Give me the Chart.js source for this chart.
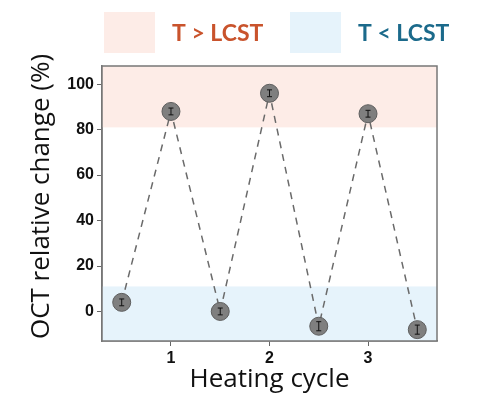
<!DOCTYPE html>
<html><head><meta charset="utf-8">
<script src="https://cdn.jsdelivr.net/npm/chart.js@4/dist/chart.umd.min.js"></script>
<style>html,body{margin:0;padding:0;background:#fff}#wrap{width:477px;height:398px}</style>
</head><body><div id="wrap"><canvas id="c" width="477" height="398"></canvas></div>
<script>
const cycleX = [0.5, 1, 1.5, 2, 2.5, 3, 3.5];
const octChange = [4, 88, 0, 96, -6.5, 87, -8];
const octErr = [1.5, 1.5, 1.5, 1.5, 2, 1.5, 2];
const xTickValues = [1, 2, 3];
const yTickValues = [0, 20, 40, 60, 80, 100];
const hotBand = [81, 108];
const coldBand = [-13, 11];
const legendLabels = ['T > LCST', 'T < LCST'];

const PINK = 'rgb(253,236,231)';
const BLUE = 'rgb(230,243,251)';

const bandsPlugin = {
  id: 'bands',
  beforeDraw(chart) {
    const ys = chart.scales.y;
    if (!ys._titleWrapped) {
      const orig = ys.drawTitle;
      ys.drawTitle = function () {
        const t = this.top;
        this.top -= 14;
        orig.apply(this, arguments);
        this.top = t;
      };
      ys._titleWrapped = true;
    }
  },
  beforeDatasetsDraw(chart) {
    const {ctx, chartArea: a, scales: {y}} = chart;
    ctx.save();
    const draw = (band, col) => {
      const t = Math.max(y.getPixelForValue(band[1]), a.top);
      const b = Math.min(y.getPixelForValue(band[0]), a.bottom);
      ctx.fillStyle = col;
      ctx.fillRect(a.left, t, a.right - a.left, b - t);
    };
    draw(hotBand, PINK);
    draw(coldBand, BLUE);
    ctx.restore();
  },
  afterDatasetsDraw(chart) {
    const {ctx, chartArea: a, scales: {x, y}} = chart;
    ctx.save();
    ctx.strokeStyle = '#111';
    ctx.lineWidth = 1;
    cycleX.forEach((cx, i) => {
      const px = x.getPixelForValue(cx);
      const t = y.getPixelForValue(octChange[i] + octErr[i]);
      const b = y.getPixelForValue(octChange[i] - octErr[i]);
      ctx.beginPath();
      ctx.moveTo(px, t); ctx.lineTo(px, b);
      ctx.moveTo(px - 2.5, t); ctx.lineTo(px + 2.5, t);
      ctx.moveTo(px - 2.5, b); ctx.lineTo(px + 2.5, b);
      ctx.stroke();
    });
    ctx.strokeStyle = '#777';
    ctx.lineWidth = 1.5;
    ctx.strokeRect(a.left, a.top, a.right - a.left, a.bottom - a.top);
    ctx.restore();
  },
  afterDraw(chart) {
    const {ctx} = chart;
    ctx.save();
    const items = [
      {box: [104, 12], tx: 172, fill: PINK, color: '#c9532c', text: legendLabels[0]},
      {box: [290, 12], tx: 358, fill: BLUE, color: '#1b6a8b', text: legendLabels[1]}
    ];
    ctx.font = 'bold 23px Lato';
    ctx.textBaseline = 'middle';
    items.forEach(it => {
      ctx.fillStyle = it.fill;
      ctx.fillRect(it.box[0], it.box[1], 51, 41);
      ctx.fillStyle = it.color;
      ctx.fillText(it.text, it.tx, 34);
    });
    ctx.restore();
  }
};

new Chart(document.getElementById('c'), {
  type: 'scatter',
  data: {
    datasets: [{
      data: cycleX.map((v, i) => ({x: v, y: octChange[i]})),
      showLine: true,
      borderColor: '#6a6a6a',
      borderWidth: 1.5,
      borderDash: [7, 6],
      pointRadius: 9,
      pointBackgroundColor: '#7f7f7f',
      pointBorderColor: '#5e5e5e',
      pointBorderWidth: 1
    }]
  },
  options: {
    responsive: false,
    animation: false,
    layout: {padding: {top: 66, right: 40, bottom: 0, left: 26}},
    plugins: {legend: {display: false}, tooltip: {enabled: false}},
    scales: {
      x: {
        type: 'linear', min: 0.3, max: 3.7,
        afterBuildTicks: s => { s.ticks = xTickValues.map(v => ({value: v})); },
        afterFit: s => { s.height = 57; },
        grid: {drawOnChartArea: false, drawTicks: true, tickLength: 5, color: '#666'},
        border: {display: true, color: '#777', width: 1.5},
        ticks: {color: '#111', font: {family: 'Liberation Sans', size: 16, weight: 'bold'}, padding: 3},
        title: {display: true, text: 'Heating cycle', color: '#111',
                font: {family: 'Open Sans', size: 26}, padding: {top: 0, bottom: 3}}
      },
      y: {
        type: 'linear', min: -13, max: 108,
        afterBuildTicks: s => { s.ticks = yTickValues.map(v => ({value: v})); },
        afterFit: s => { s.width = 76; },
        grid: {drawOnChartArea: false, drawTicks: true, tickLength: 5, color: '#666'},
        border: {display: true, color: '#777', width: 1.5},
        ticks: {color: '#111', font: {family: 'Liberation Sans', size: 16, weight: 'bold'}, padding: 3},
        title: {display: true, text: 'OCT relative change (%)', color: '#111',
                font: {family: 'Open Sans', size: 26}, padding: {top: 0, bottom: 0}}
      }
    }
  },
  plugins: [bandsPlugin]
});
</script></body></html>
